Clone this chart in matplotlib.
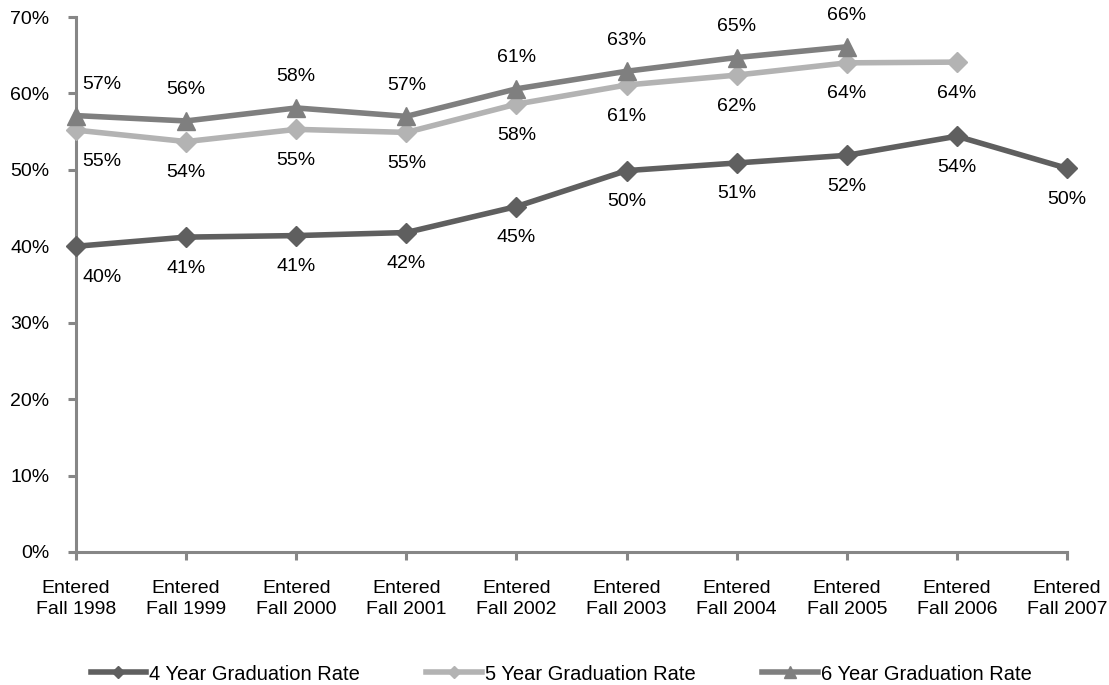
import matplotlib
matplotlib.use("Agg")
import matplotlib.pyplot as plt
from matplotlib.ticker import FuncFormatter

plt.rcParams['font.family'] = ['Liberation Sans', 'DejaVu Sans']

categories = ["Entered\nFall 1998", "Entered\nFall 1999", "Entered\nFall 2000", "Entered\nFall 2001",
              "Entered\nFall 2002", "Entered\nFall 2003", "Entered\nFall 2004", "Entered\nFall 2005",
              "Entered\nFall 2006", "Entered\nFall 2007"]
rate4 = [40.0, 41.2, 41.4, 41.8, 45.2, 49.9, 50.9, 51.9, 54.4, 50.2]
rate5 = [55.2, 53.7, 55.3, 54.9, 58.6, 61.1, 62.4, 64.0, 64.1]
rate6 = [57.1, 56.4, 58.1, 57.0, 60.6, 62.9, 64.7, 66.1]
labels4 = ["40%", "41%", "41%", "42%", "45%", "50%", "51%", "52%", "54%", "50%"]
labels5 = ["55%", "54%", "55%", "55%", "58%", "61%", "62%", "64%", "64%"]
labels6 = ["57%", "56%", "58%", "57%", "61%", "63%", "65%", "66%"]
series_names = ["4 Year Graduation Rate", "5 Year Graduation Rate", "6 Year Graduation Rate"]
yticks = [0, 10, 20, 30, 40, 50, 60, 70]

c4, c5, c6 = "#5f5f5f", "#b3b3b3", "#7f7f7f"
axis_c = "#868686"
fs = 14

fig = plt.figure(figsize=(11.09, 6.85), dpi=100)
ax = fig.add_axes([76/1109, 1-552/685, (1067-76)/1109, (552-17)/685])

x4 = list(range(len(rate4)))
x5 = list(range(len(rate5)))
x6 = list(range(len(rate6)))
lw = 4.0
l4, = ax.plot(x4, rate4, color=c4, lw=lw, marker='D', ms=10, mec=c4, mfc=c4, label=series_names[0], clip_on=False, zorder=3)
l5, = ax.plot(x5, rate5, color=c5, lw=lw, marker='D', ms=10, mec=c5, mfc=c5, label=series_names[1], clip_on=False, zorder=3)
l6, = ax.plot(x6, rate6, color=c6, lw=lw, marker='^', ms=13.5, mec=c6, mfc=c6, label=series_names[2], clip_on=False, zorder=4)

def annotate(xs, ys, labs, dy):
    for i, (xv, yv, t) in enumerate(zip(xs, ys, labs)):
        dx = 26 if i == 0 else 0
        ax.annotate(t, (xv, yv), xytext=(dx, dy), textcoords='offset pixels',
                    ha='center', va='center', fontsize=fs, color='black')

annotate(x4, rate4, labels4, -31)
annotate(x5, rate5, labels5, -31)
annotate(x6, rate6, labels6, 31)

ax.set_xlim(0, 9)
ax.set_ylim(0, 70)
ax.set_yticks(yticks)
ax.yaxis.set_major_formatter(FuncFormatter(lambda v, p: f"{int(v)}%"))
ax.set_xticks(range(len(categories)))
ax.set_xticklabels(categories, fontsize=fs, linespacing=1.35)
ax.tick_params(axis='y', labelsize=fs, length=6, width=2.2, color=axis_c, pad=13, direction='out')
ax.tick_params(axis='x', length=6, width=2.2, color=axis_c, pad=14, direction='out')

for s in ['top', 'right']:
    ax.spines[s].set_visible(False)
for s in ['left', 'bottom']:
    ax.spines[s].set_color(axis_c)
    ax.spines[s].set_linewidth(2.2)

fig.legend(handles=[l4, l5, l6], loc='center', bbox_to_anchor=(0.506, 1-674/685), ncol=3,
           frameon=False, fontsize=14.5, handlelength=2.76, handletextpad=0.15, columnspacing=3.3,
           markerscale=0.6, borderpad=0.1)

fig.savefig("out.png", dpi=100)
